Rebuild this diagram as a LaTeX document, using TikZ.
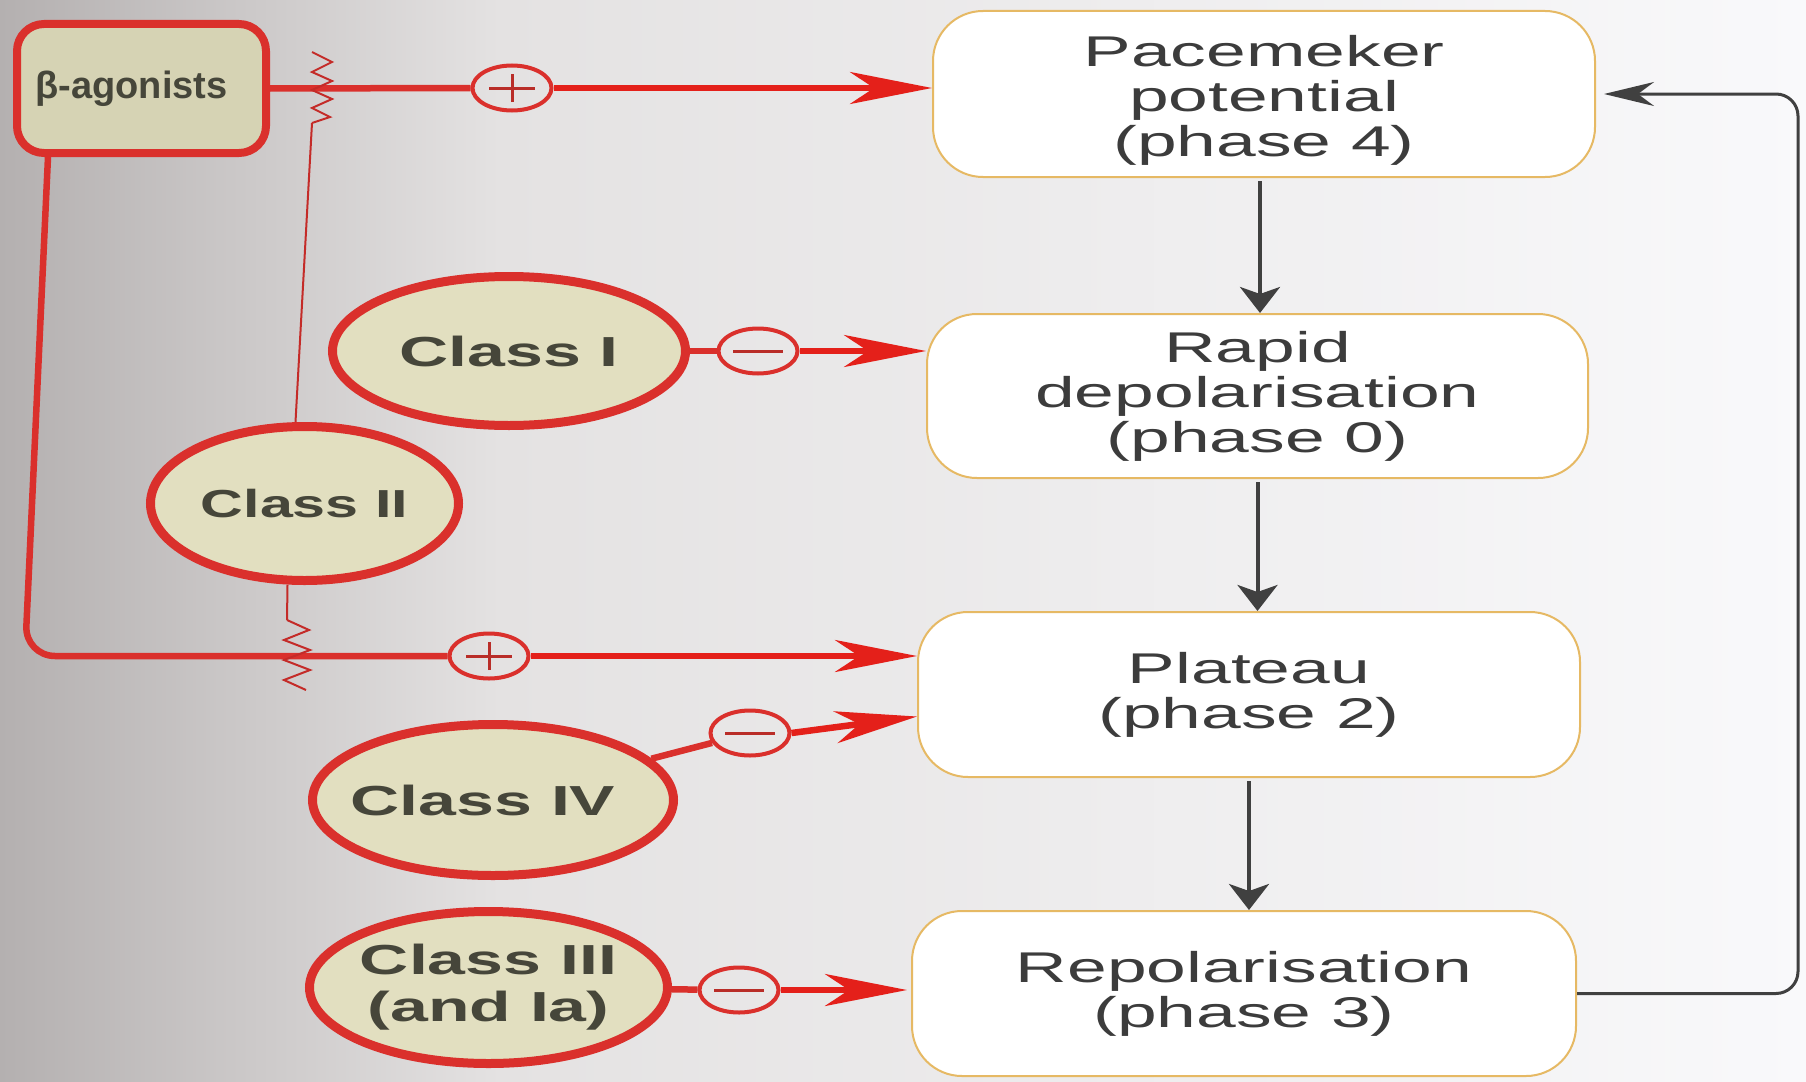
\documentclass[tikz,border=0pt]{standalone}
\usepackage{graphicx}
\usepackage{fontspec}
\setmainfont{Liberation Sans}
\newfontfamily\boxfont[FakeStretch=1.66]{Liberation Sans}
\newfontfamily\clsfont[FakeStretch=1.62]{Liberation Sans}
\usetikzlibrary{shapes.geometric,arrows.meta}
\definecolor{redc}{RGB}{218,48,44}
\definecolor{redarrc}{RGB}{228,32,26}
\definecolor{signc}{RGB}{185,45,40}
\definecolor{boxborder}{RGB}{230,185,100}
\definecolor{ellfill}{RGB}{226,223,192}
\definecolor{betafill}{RGB}{214,211,180}
\definecolor{txtcls}{RGB}{70,70,58}
\definecolor{txtbox}{RGB}{60,60,60}
\definecolor{darkarr}{RGB}{64,64,64}
\definecolor{bgA}{RGB}{180,176,176}
\definecolor{bgB}{RGB}{228,226,226}
\definecolor{bgC}{RGB}{249,249,251}
\begin{document}
\begin{tikzpicture}[x=1pt,y=-1pt,
  phase/.style={draw=boxborder, line width=2pt, fill=white, rounded corners=50pt,
    inner sep=0pt, align=center, font=\boxfont\fontsize{43}{45}\selectfont, text=txtbox},
  cls/.style={ellipse, draw=redc, line width=9pt, fill=ellfill, inner sep=0pt,
    align=center, font=\clsfont\bfseries\fontsize{42}{47}\selectfont, text=txtcls},
  sign/.style={ellipse, draw=redc, line width=4pt, minimum width=79pt,
    minimum height=45pt, inner sep=0pt},
  plussign/.style={sign, path picture={
    \draw[line width=3pt, signc]
      ([xshift=-23pt]path picture bounding box.center) -- ([xshift=23pt]path picture bounding box.center)
      ([yshift=-14pt]path picture bounding box.center) -- ([yshift=14pt]path picture bounding box.center);}},
  minussign/.style={sign, path picture={
    \draw[line width=3pt, signc]
      ([xshift=-25pt]path picture bounding box.center) -- ([xshift=25pt]path picture bounding box.center);}},
  redline/.style={draw=redc, line width=6.5pt},
  redarr/.style={draw=redarrc, line width=6.5pt, -{Stealth[length=82pt, width=32pt, inset=24pt]}},
  thinred/.style={draw=redc!90!black, line width=2pt, line join=miter},
  darr/.style={draw=darkarr, line width=4pt, -{Stealth[length=26pt, width=40pt, inset=7pt]}},
  looparr/.style={draw=darkarr, line width=3pt, -{Stealth[length=50pt, width=24pt, inset=16pt]}}
]
\useasboundingbox (0,0) rectangle (1806,1081);
\shade[left color=bgA, right color=bgB] (0,0) rectangle (500,1081);
\shade[left color=bgB, right color=bgC] (500,0) rectangle (1806,1081);

% phase boxes
\node[phase, minimum width=662pt, minimum height=166pt] (pm) at (1264,94)
  {\rule{0pt}{44pt}Pacemeker\\potential\\(phase 4)};
\node[phase, minimum width=661pt, minimum height=164pt] (rd) at (1257.5,396)
  {Rapid\\depolarisation\\(phase 0)};
\node[phase, minimum width=662pt, minimum height=165pt] (pt) at (1249,694.5)
  {Plateau\\(phase 2)};
\node[phase, minimum width=664pt, minimum height=165pt] (rp) at (1244,993.5)
  {Repolarisation\\(phase 3)};

% drugs
\node[draw=redc, line width=8pt, fill=betafill, rounded corners=27pt,
  minimum width=249pt, minimum height=129pt, inner sep=0pt,
  font=\bfseries\fontsize{38}{40}\selectfont, text=txtcls] (beta) at (141.5,88.5)
  {\hspace*{-20pt}β-agonists};
\node[cls, minimum width=353pt, minimum height=149pt] (c1) at (509,351)
  {\makebox[0pt]{Class I}};
\node[cls, minimum width=308pt, minimum height=154pt] (c2) at (304.5,503.5)
  {\makebox[0pt]{\scalebox{0.87}[0.93]{Class II}}};
\node[cls, minimum width=361pt, minimum height=151pt] (c4) at (493,800)
  {\makebox[0pt]{Class IV\hspace*{20pt}}};
\node[cls, minimum width=358pt, minimum height=152pt] (c3) at (488.5,987.5)
  {\makebox[0pt]{Class III}\\\makebox[0pt]{(and Ia)}};

% signs
\node[plussign] (p1) at (512,88) {};
\node[minussign] (m1) at (758,351) {};
\node[plussign] (p2) at (489,656) {};
\node[minussign] (m4) at (750,733) {};
\node[minussign] (m3) at (739,990) {};

% red connectors
\draw[redline] (beta.east) -- (p1.west);
\draw[redarr] (p1.east) -- (p1.east -| pm.west);
\draw[redline] (c1) -- (m1);
\draw[redarr] (m1.east) -- (m1.east -| rd.west);
\draw[redline, rounded corners=30pt] ([xshift=35pt]beta.south west) -- (25,656) -- (p2.west);
\draw[redarr] (p2.east) -- (p2.east -| pt.west);
\draw[redline] (c4) -- (m4);
\draw[redarr] (m4.east) -- ([yshift=-22pt]pt.west);
\draw[redline] (c3) -- (m3);
\draw[redarr] (m3.east) -- ([xshift=-4pt]m3.east -| rp.west);

% Class II blocking lines with zigzags
\coordinate (z1) at (312,123);
\coordinate (z2) at (287,620);
\draw[thinred] (z1) -- (330,117) -- (312,108) -- (332,99) -- (312,90) -- (332,81)
  -- (312,72) -- (332,62) -- (312,52);
\draw[thinred] (z1) -- ([xshift=-9pt]c2.north);
\draw[thinred] ([xshift=-17pt]c2.south) -- (z2);
\draw[thinred] (z2) -- (309,630) -- (284,640) -- (310,650) -- (284,660) -- (310,670)
  -- (284,680) -- (306,690);

% phase sequence
\draw[darr, shorten <=3pt] ([xshift=-4pt]pm.south) -- ([xshift=-4pt]pm.south |- rd.north);
\draw[darr, shorten <=3pt] (rd.south) -- (rd.south |- pt.north);
\draw[darr, shorten <=3pt] (pt.south) -- (pt.south |- rp.north);
\draw[looparr, rounded corners=22pt] (rp.east) -- (1798,993.5) -- (1798,94) -- ([xshift=8pt]pm.east);
\end{tikzpicture}
\end{document}
